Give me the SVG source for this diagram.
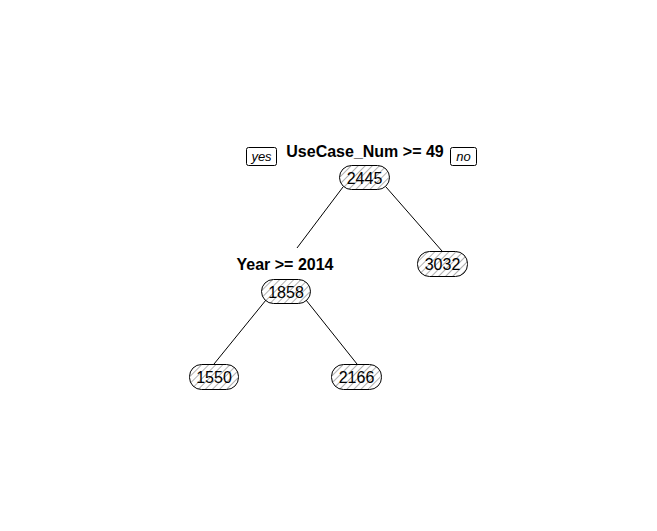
<svg xmlns="http://www.w3.org/2000/svg" width="657" height="531" viewBox="0 0 657 531">
<defs>
<pattern id="hatch" width="5" height="5" patternUnits="userSpaceOnUse" patternTransform="rotate(45)">
<line x1="0" y1="0" x2="0" y2="5" stroke="#7a7a7a" stroke-width="1.2"/>
</pattern>
<style>
.box{fill:url(#hatch);stroke:#000;stroke-width:1}
.num{font-family:"Liberation Sans",Arial,sans-serif;font-size:16px;fill:#000;text-anchor:middle}
.lab{font-family:"Liberation Sans",Arial,sans-serif;font-size:16px;font-weight:bold;fill:#000;text-anchor:middle}
.yn{font-family:"Liberation Sans",Arial,sans-serif;font-size:13px;font-style:italic;fill:#000;text-anchor:middle}
.tag{fill:#fff;stroke:#000;stroke-width:1}
.edge{stroke:#000;stroke-width:1;fill:none}
</style>
</defs>
<rect width="657" height="531" fill="#fff"/>
<g id="connectors">
<line class="edge" x1="343" y1="187" x2="297" y2="248"/>
<line class="edge" x1="386" y1="187" x2="442" y2="251"/>
<line class="edge" x1="266" y1="300" x2="214" y2="364"/>
<line class="edge" x1="306" y1="300" x2="357" y2="364"/>
</g>
<g id="yes">
<rect class="tag" x="246.5" y="147.5" width="30" height="18" rx="2"/>
<text class="yn" x="261.5" y="161">yes</text>
</g>
<g id="no">
<rect class="tag" x="450.5" y="147.5" width="26" height="18" rx="2"/>
<text class="yn" x="463.5" y="161">no</text>
</g>
<g id="node1">
<text class="lab" x="365" y="157">UseCase_Num &gt;= 49</text>
<rect class="box" x="339.5" y="165.5" width="50" height="24" rx="12"/>
<text class="num" x="364.5" y="184">2445</text>
</g>
<g id="node2">
<text class="lab" x="285" y="270">Year &gt;= 2014</text>
<rect class="box" x="261.5" y="279.5" width="49" height="24" rx="12"/>
<text class="num" x="286" y="298">1858</text>
</g>
<g id="node3">
<rect class="box" x="417.5" y="251.5" width="50" height="25" rx="12"/>
<text class="num" x="442.5" y="270">3032</text>
</g>
<g id="node4">
<rect class="box" x="189.5" y="364.5" width="49" height="25" rx="12"/>
<text class="num" x="214" y="383">1550</text>
</g>
<g id="node5">
<rect class="box" x="331.5" y="364.5" width="50" height="25" rx="12"/>
<text class="num" x="356.5" y="383">2166</text>
</g>
</svg>
